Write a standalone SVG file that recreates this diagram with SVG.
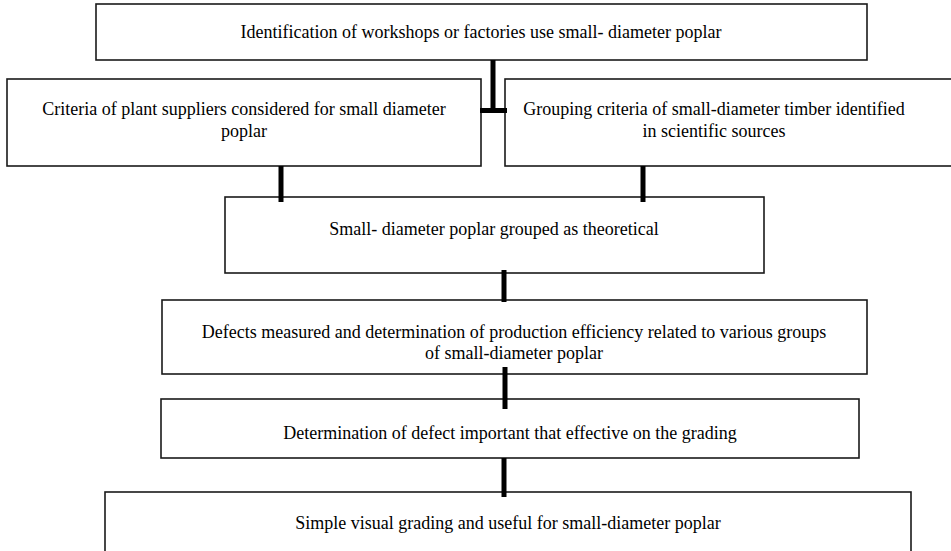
<svg xmlns="http://www.w3.org/2000/svg" width="951" height="551" viewBox="0 0 951 551">
<style>
.box{fill:#fff;stroke:#1a1a1a;stroke-width:1.6}
.t{font-family:"Liberation Serif","Times New Roman",serif;font-size:18px;fill:#000;text-anchor:middle}
.c{stroke:#000;stroke-width:5;fill:none}
</style>
<rect width="951" height="551" fill="#fff"/>
<g id="n1"><rect class="box" x="96" y="4" width="771" height="56"/><text class="t" x="481" y="38">Identification of workshops or factories use small- diameter poplar</text></g>
<g id="n2"><rect class="box" x="7" y="79" width="474" height="87"/><text class="t" x="244" y="115">Criteria of plant suppliers considered for small diameter</text><text class="t" x="244" y="137">poplar</text></g>
<g id="n3"><rect class="box" x="505" y="79" width="450" height="87"/><text class="t" x="714" y="115">Grouping criteria of small-diameter timber identified</text><text class="t" x="714" y="137">in scientific sources</text></g>
<g id="n4"><rect class="box" x="225" y="197" width="539" height="76"/><text class="t" x="494" y="235">Small- diameter poplar grouped as theoretical</text></g>
<g id="n5"><rect class="box" x="162" y="300" width="705" height="74"/><text class="t" x="514" y="338">Defects measured and determination of production efficiency related to various groups</text><text class="t" x="514" y="359">of small-diameter poplar</text></g>
<g id="n6"><rect class="box" x="161" y="399" width="698" height="59"/><text class="t" x="510" y="439">Determination of defect important that effective on the grading</text></g>
<g id="n7"><rect class="box" x="105" y="492" width="806" height="70"/><text class="t" x="508" y="529">Simple visual grading and useful for small-diameter poplar</text></g>
<g id="connectors">
<line class="c" x1="493" y1="60" x2="493" y2="111"/>
<line class="c" x1="480" y1="110.5" x2="507" y2="110.5" stroke-width="7"/>
<line class="c" x1="281" y1="166" x2="281" y2="202"/>
<line class="c" x1="643" y1="166" x2="643" y2="202"/>
<line class="c" x1="504" y1="270" x2="504" y2="302"/>
<line class="c" x1="505" y1="367" x2="505" y2="409"/>
<line class="c" x1="504" y1="458" x2="504" y2="497"/>
</g>
</svg>
